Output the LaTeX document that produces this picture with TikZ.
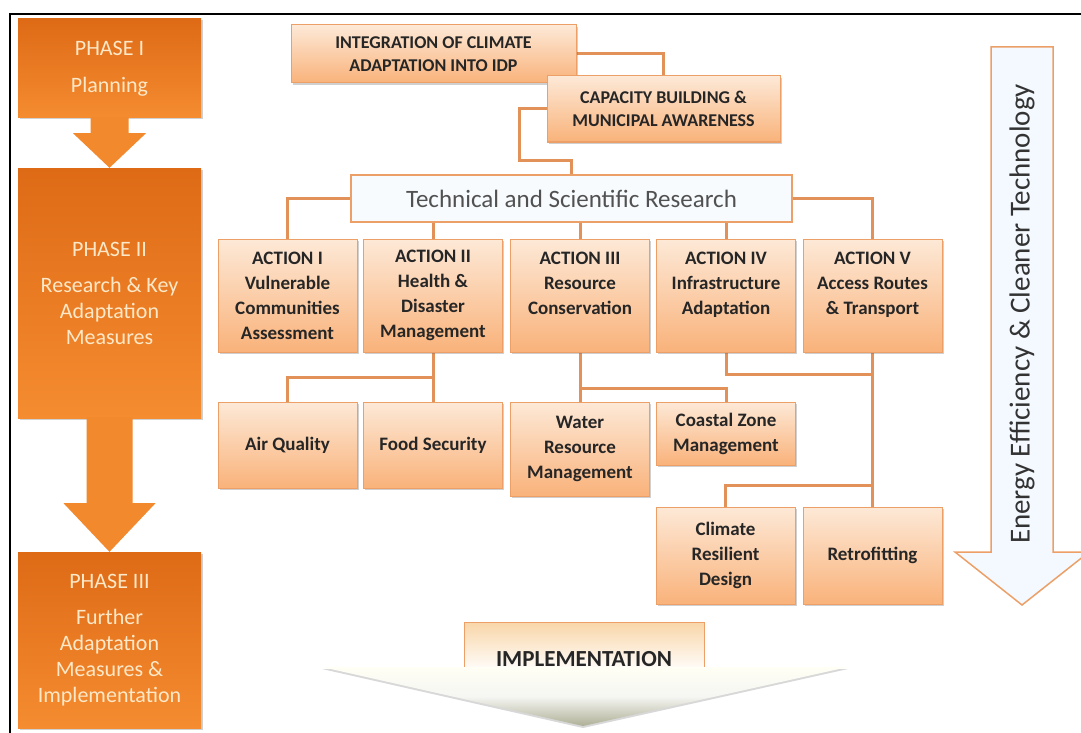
\documentclass[tikz,border=0pt]{standalone}
\usepackage{fontspec}
\setmainfont{Carlito}
\usetikzlibrary{shadows,calc}
\pgfdeclarelayer{bg}
\pgfdeclarelayer{paper}
\pgfsetlayers{paper,bg,main}
\definecolor{phdark}{RGB}{222,106,22}
\definecolor{phlight}{RGB}{245,140,48}
\definecolor{pharrow}{RGB}{242,137,45}
\definecolor{phtext}{RGB}{253,232,200}
\definecolor{boxtop}{RGB}{253,233,215}
\definecolor{boxbot}{RGB}{249,178,122}
\definecolor{boxline}{RGB}{236,160,104}
\definecolor{conn}{RGB}{226,146,88}
\definecolor{txt}{RGB}{38,38,38}
\definecolor{techfill}{RGB}{247,251,254}
\definecolor{energyfill}{RGB}{243,249,254}
\definecolor{impltop}{RGB}{249,214,168}
\definecolor{implgray}{RGB}{175,176,150}
\tikzset{
  phasebox/.style={rectangle, top color=phdark, bottom color=phlight, draw=none,
    minimum width=183, text=phtext, align=center, inner sep=0pt,
    font=\fontsize{22}{26}\selectfont,
    drop shadow={shadow xshift=1.5pt, shadow yshift=-1.5pt, opacity=0.3, fill=black!60}},
  abox/.style={rectangle, top color=boxtop, bottom color=boxbot, draw=boxline,
    line width=1pt, text=txt, align=center, inner sep=0pt,
    font=\bfseries\fontsize{19}{25}\selectfont,
    drop shadow={shadow xshift=1.5pt, shadow yshift=-2pt, opacity=0.3, fill=black!60}},
  topbox/.style={abox, font=\bfseries\fontsize{18}{22.5}\selectfont},
  actbox/.style={abox, minimum width=139, minimum height=113},
  subbox/.style={abox, minimum width=139},
  techbox/.style={rectangle, fill=techfill, draw=boxline,
    line width=2.5pt, text=txt!80, font=\fontsize{25}{30}\selectfont, inner sep=0pt},
  link/.style={draw=conn, line width=3pt}
}
\begin{document}
\begin{tikzpicture}[x=1pt,y=-1pt]
\clip (0,0) rectangle (1081,733);
\begin{pgfonlayer}{paper}
\fill[white] (0,0) rectangle (1081,733);
\end{pgfonlayer}
% frame
\draw[line width=2pt, black] (10,745) -- (10,14) -- (1095,14);

% phases
\node[phasebox, minimum height=99] (p1) at (109.5,68.5) {PHASE I\\[11pt]Planning};
\node[phasebox, minimum height=250] (p2) at (109.5,293) {PHASE II\\[10pt]Research \& Key\\Adaptation\\Measures};
\node[phasebox, minimum height=176] (p3) at (109.5,640) {PHASE III\\[10pt]Further\\Adaptation\\Measures \&\\Implementation};
\fill[pharrow] ($(p1.south)+(-19,-1)$) -- ($(p1.south)+(19,-1)$) -- ($(p1.south)+(19,15)$)
  -- ($(p1.south)+(36.5,15)$) -- (p2.north) -- ($(p1.south)+(-36.5,15)$)
  -- ($(p1.south)+(-19,15)$) -- cycle;
\fill[pharrow] ($(p2.south)+(-23,-1)$) -- ($(p2.south)+(23,-1)$) -- ($(p2.south)+(23,85)$)
  -- ($(p2.south)+(46,85)$) -- (p3.north) -- ($(p2.south)+(-46,85)$)
  -- ($(p2.south)+(-23,85)$) -- cycle;

% top boxes
\node[topbox, minimum width=285, minimum height=58] (idp) at (433.5,54) {INTEGRATION OF CLIMATE\\ADAPTATION INTO IDP};
\node[topbox, minimum width=233, minimum height=66] (cap) at (663.5,109) {CAPACITY BUILDING \&\\MUNICIPAL AWARENESS};
\node[techbox, minimum width=441, minimum height=47] (tech) at (571.5,198.5) {Technical and Scientific Research};

% actions
\node[actbox] (a1) at (287.5,295.5) {ACTION I\\Vulnerable\\Communities\\Assessment};
\node[actbox] (a2) at (433,295.5) {ACTION II\\Health \&\\Disaster\\Management};
\node[actbox] (a3) at (580,295.5) {ACTION III\\Resource\\Conservation\\\mbox{}};
\node[actbox] (a4) at (726,295.5) {ACTION IV\\Infrastructure\\Adaptation\\\mbox{}};
\node[actbox] (a5) at (872.5,295.5) {ACTION V\\Access Routes\\\& Transport\\\mbox{}};

% sub boxes
\node[subbox, minimum height=86] (air) at (287.5,445) {Air Quality};
\node[subbox, minimum height=86] (food) at (433,445) {Food Security};
\node[subbox, minimum height=94] (water) at (580,449) {Water\\Resource\\Management};
\node[subbox, minimum height=63] (coastal) at (726,433.5) {Coastal Zone\\Management};
\node[subbox, minimum height=97] (climate) at (725.5,555.5) {Climate\\Resilient\\Design};
\node[subbox, minimum height=97] (retro) at (872.5,555.5) {Retrofitting};

% connectors
\coordinate (k1) at (519,160);
\coordinate (j1) at (433,377);
\coordinate (j2) at (580,388);
\coordinate (j3) at (872.5,374);
\coordinate (j4) at (872.5,485);
\begin{pgfonlayer}{bg}
\draw[link] (idp.east) -| (cap.north);
\draw[link] (cap.west) -| (k1) -| (tech.north);
\draw[link] (tech.west) -| (a1.north);
\draw[link] (tech.east) -| (a5.north);
\draw[link] (tech.south -| a2.north) -- (a2.north);
\draw[link] (tech.south -| a3.north) -- (a3.north);
\draw[link] (tech.south -| a4.north) -- (a4.north);
\draw[link] (a2.south) -- (food.north);
\draw[link] (j1) -| (air.north);
\draw[link] (a3.south) -- (water.north);
\draw[link] (j2) -| (coastal.north);
\draw[link] (a4.south) |- (j3);
\draw[link] (a5.south) -- (retro.north);
\draw[link] (j4) -| (climate.north);
\end{pgfonlayer}

% implementation
\node[rectangle, minimum width=240, minimum height=50, top color=impltop, bottom color=white,
  draw=boxline, line width=1pt, inner sep=0pt] (tab) at (584,647) {};
\coordinate (il) at (322,667);
\coordinate (ir) at (848,667);
\coordinate (it) at (583,726);
\shade[top color=white!96!yellow, bottom color=implgray, middle color=white!88!implgray,
  drop shadow={shadow xshift=0pt, shadow yshift=-2pt, opacity=0.25, fill=black!60}]
  (il) -- (ir) -- (it) -- cycle;
\node[font=\bfseries\fontsize{23}{27}\selectfont, text=black!85, inner sep=0pt] (impl) at (584,659) {IMPLEMENTATION};

% energy arrow
\filldraw[draw=boxline, line width=1.5pt, fill=energyfill]
  (991,47) -- (1053,47) -- (1053,552) -- (1089,552) -- (1022,605) -- (955,552) -- (991,552) -- cycle;
\node[rotate=90, font=\fontsize{29}{33}\selectfont, text=black!80, inner sep=0pt] (energy) at (1022,314)
  {Energy Efficiency \& Cleaner Technology};
\end{tikzpicture}
\end{document}
